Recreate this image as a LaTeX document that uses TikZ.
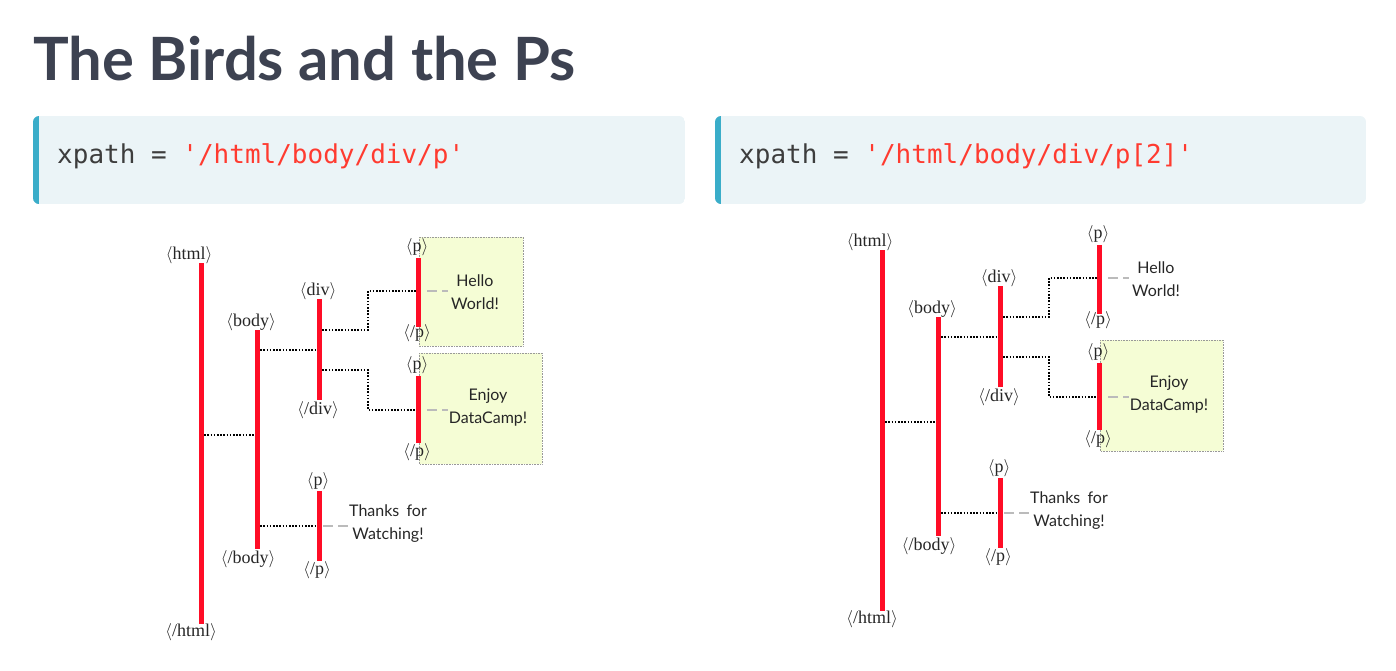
\documentclass[tikz,border=0pt]{standalone}
\usepackage{fontspec}
\newfontfamily\titlefont{Lato}
\newfontfamily\leaffont{Lato}
\newfontfamily\tagfont{Liberation Serif}
\newfontfamily\codefont{DejaVu Sans Mono}
\usetikzlibrary{calc}

\definecolor{titlegray}{HTML}{3D4251}
\definecolor{codebg}{HTML}{EBF4F7}
\definecolor{codebar}{HTML}{3AADC9}
\definecolor{codetext}{HTML}{3D3D3D}
\definecolor{codestr}{HTML}{FF3B30}
\definecolor{tagred}{HTML}{FF0D26}
\definecolor{leafbg}{HTML}{F5FDD5}
\definecolor{dashgray}{HTML}{BBBBBB}

\newcommand\tagtxt[1]{$\langle$#1$\rangle$}

\tikzset{
  tagname/.style={font=\tagfont\fontsize{18}{18}\selectfont, inner sep=0pt, text=black!85},
  tagbar/.style={tagred, line width=5pt},
  treelink/.style={black, line width=2pt, dash pattern=on 1.6pt off 1.6pt},
  leafdash/.style={dashgray, line width=2pt, dash pattern=on 10pt off 5pt},
  leafbox/.style={fill=leafbg, draw=gray!80, line width=0.6pt, densely dotted},
  leaftext/.style={font=\leaffont\fontsize{16}{23}\selectfont, align=center, inner sep=0pt, text=black!85},
  codetxt/.style={font=\codefont\fontsize{26}{26}\selectfont, inner sep=0pt, anchor=base west},
}

% one DOM tree; #1 is drawn first (highlight boxes behind the tree)
\newcommand\domtree[1]{%
  #1
  \draw[leafbox] (419,353) rectangle (542,464);
  % bar end points
  \coordinate (htmlT) at (201,263); \coordinate (htmlB) at (201,624);
  \coordinate (bodyT) at (257,330); \coordinate (bodyB) at (257,549);
  \coordinate (divT)  at (319,299); \coordinate (divB)  at (319,400);
  \coordinate (pAT)   at (418,258); \coordinate (pAB)   at (418,327);
  \coordinate (pBT)   at (418,376); \coordinate (pBB)   at (418,443);
  \coordinate (pCT)   at (319,491); \coordinate (pCB)   at (319,561);
  % parent/child links
  \draw[treelink] (htmlT |- 0,435) -- (bodyT |- 0,435);
  \draw[treelink] (bodyT |- 0,350) -- (divT |- 0,350);
  \draw[treelink] (divT |- 0,330) -- (368,330) |- (pAT |- 0,291);
  \draw[treelink] (divT |- 0,370) -- (368,370) |- (pBT |- 0,410);
  \draw[treelink] (bodyT |- 0,526) -- (pCT |- 0,526);
  % text leaders
  \coordinate (leafA) at (448,291);
  \coordinate (leafB) at (448,410);
  \coordinate (leafC) at (350,526);
  \draw[leafdash] (427,291) -- (leafA);
  \draw[leafdash] (427,410) -- (leafB);
  \draw[leafdash] (323,526) -- (leafC);
  % element bars
  \draw[tagbar] (htmlT) -- (htmlB);
  \draw[tagbar] (bodyT) -- (bodyB);
  \draw[tagbar] (divT) -- (divB);
  \draw[tagbar] (pAT) -- (pAB);
  \draw[tagbar] (pBT) -- (pBB);
  \draw[tagbar] (pCT) -- (pCB);
  % tag names
  \node[tagname] (html)  at (189,255) {\tagtxt{html}};
  \node[tagname] (chtml) at (191,632) {\tagtxt{/html}};
  \node[tagname] (body)  at (251,322) {\tagtxt{body}};
  \node[tagname] (cbody) at (248,559) {\tagtxt{/body}};
  \node[tagname] (div)   at (318,291) {\tagtxt{div}};
  \node[tagname] (cdiv)  at (318,410) {\tagtxt{/div}};
  \node[tagname] (pA)    at (417,247) {\tagtxt{p}};
  \node[tagname] (cpA)   at (417,333) {\tagtxt{/p}};
  \node[tagname] (pB)    at (417,365) {\tagtxt{p}};
  \node[tagname] (cpB)   at (417,452) {\tagtxt{/p}};
  \node[tagname] (pC)    at (318,481) {\tagtxt{p}};
  \node[tagname] (cpC)   at (317,570) {\tagtxt{/p}};
  % leaf texts
  \node[leaftext] (tA) at (475,292) {Hello\\World!};
  \node[leaftext] (tB) at (488,408) {Enjoy\\DataCamp!};
  \node[leaftext] (tC) at (388,524) {Thanks\hspace{0.45em}for\\Watching!};
}

\begin{document}
\begin{tikzpicture}[x=1pt, y=-1pt]
\useasboundingbox (0,0) rectangle (1396,670);

\node[anchor=base west, inner sep=0pt, text=titlegray,
      font=\titlefont\bfseries\fontsize{59.7}{60}\selectfont] (title) at (33,80) {The Birds and the Ps};

% query boxes
\begin{scope}
  \clip[rounded corners=6pt] (33,116) rectangle (685,204);
  \fill[codebg] (33,116) rectangle (685,204);
  \fill[codebar] (33,116) rectangle (39,204);
\end{scope}
\begin{scope}
  \clip[rounded corners=6pt] (715,116) rectangle (1366,204);
  \fill[codebg] (715,116) rectangle (1366,204);
  \fill[codebar] (715,116) rectangle (721,204);
\end{scope}
\node[codetxt] (qleft) at (57,163) {\textcolor{codetext}{xpath = }\textcolor{codestr}{'/html/body/div/p'}};
\node[codetxt] (qright) at (739,163) {\textcolor{codetext}{xpath = }\textcolor{codestr}{'/html/body/div/p[2]'}};

% left tree: all p elements of the div highlighted
\begin{scope}[name prefix=l-]
  \domtree{\draw[leafbox] (419,237) rectangle (523,346);}
\end{scope}

% right tree: only the second p highlighted
\begin{scope}[name prefix=r-, shift={(681,-13)}]
  \domtree{}
\end{scope}
\end{tikzpicture}
\end{document}
